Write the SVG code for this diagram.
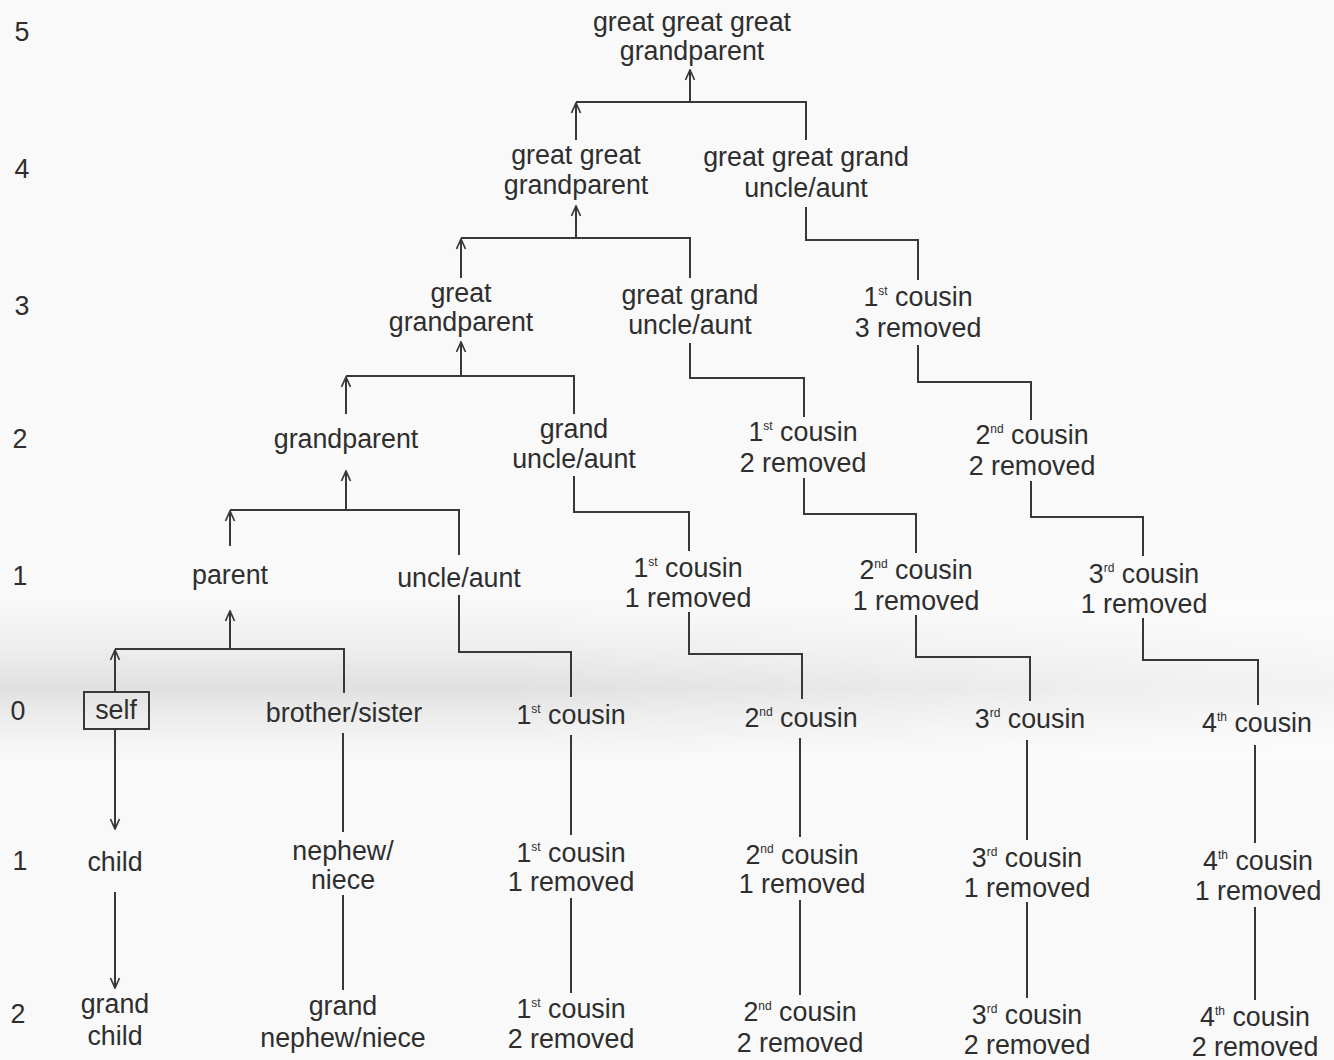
<svg xmlns="http://www.w3.org/2000/svg" width="1334" height="1060" viewBox="0 0 1334 1060">
<style>
.t{font-family:"Liberation Sans",Arial,sans-serif;font-size:26.8px;fill:#2e2e2e;text-anchor:middle}
.sup{font-size:12px}
.ln{stroke:#383838;stroke-width:2;fill:none}
.ar{stroke:#383838;stroke-width:2;fill:none;marker-end:url(#arr)}
.box{stroke:#383838;stroke-width:2;fill:none}
</style>
<defs>
<marker id="arr" viewBox="0 0 12 12" refX="11" refY="6" markerWidth="12" markerHeight="12" markerUnits="userSpaceOnUse" orient="auto">
<path d="M1,1.5 L11,6 L1,10.5" fill="none" stroke="#383838" stroke-width="1.7"/>
</marker>
<linearGradient id="band" x1="0" y1="0" x2="0" y2="1">
<stop offset="0" stop-color="#e6e6e6" stop-opacity="0"/>
<stop offset="0.55" stop-color="#dedede" stop-opacity="0.9"/>
<stop offset="1" stop-color="#e6e6e6" stop-opacity="0"/>
</linearGradient>
<linearGradient id="fade" x1="0" y1="0" x2="1" y2="0">
<stop offset="0" stop-color="#fff" stop-opacity="0"/>
<stop offset="1" stop-color="#fff" stop-opacity="1"/>
</linearGradient>
</defs>
<rect width="1334" height="1060" fill="#f9f9f9"/>
<rect x="0" y="600" width="1334" height="160" fill="url(#band)"/>
<rect x="500" y="600" width="834" height="160" fill="url(#fade)" opacity="0.6"/>

<g id="levels">
<text class="t" x="22" y="41">5</text>
<text class="t" x="22" y="178">4</text>
<text class="t" x="22" y="315">3</text>
<text class="t" x="20" y="448">2</text>
<text class="t" x="20" y="585">1</text>
<text class="t" x="18" y="720">0</text>
<text class="t" x="20" y="870">1</text>
<text class="t" x="18" y="1023">2</text>
</g>

<g id="connectors">
<path class="ln" d="M576,102 H806 V140"/>
<line class="ar" x1="690" y1="102" x2="690" y2="70"/>
<line class="ar" x1="576" y1="140" x2="576" y2="103"/>
<path class="ln" d="M461,238 H690 V278"/>
<line class="ar" x1="576" y1="238" x2="576" y2="206"/>
<line class="ar" x1="461" y1="278" x2="461" y2="239"/>
<path class="ln" d="M806,207 V240 H918 V280"/>
<path class="ln" d="M346,376 H574 V414"/>
<line class="ar" x1="461" y1="376" x2="461" y2="342"/>
<line class="ar" x1="346" y1="414" x2="346" y2="377"/>
<path class="ln" d="M690,343 V378 H804 V417"/>
<path class="ln" d="M918,345 V382 H1031 V420"/>
<path class="ln" d="M230,510 H459 V555"/>
<line class="ar" x1="346" y1="510" x2="346" y2="471"/>
<line class="ar" x1="230" y1="546" x2="230" y2="511"/>
<path class="ln" d="M574,476 V512 H689 V551"/>
<path class="ln" d="M804,478 V514 H916 V553"/>
<path class="ln" d="M1031,481 V517 H1143 V556"/>
<path class="ln" d="M115,649 H344 V693"/>
<line class="ar" x1="230" y1="649" x2="230" y2="611"/>
<line class="ar" x1="115" y1="692" x2="115" y2="650"/>
<path class="ln" d="M459,595 V652 H571 V697"/>
<path class="ln" d="M689,612 V654 H802 V699"/>
<path class="ln" d="M916,615 V657 H1030 V701"/>
<path class="ln" d="M1143,618 V660 H1258 V705"/>
<line class="ar" x1="115" y1="729" x2="115" y2="829"/>
<line class="ar" x1="115" y1="892" x2="115" y2="988"/>
<line class="ln" x1="343" y1="733" x2="343" y2="832"/>
<line class="ln" x1="343" y1="895" x2="343" y2="990"/>
<line class="ln" x1="571" y1="735" x2="571" y2="835"/>
<line class="ln" x1="571" y1="898" x2="571" y2="993"/>
<line class="ln" x1="800" y1="738" x2="800" y2="837"/>
<line class="ln" x1="800" y1="900" x2="800" y2="995"/>
<line class="ln" x1="1027" y1="740" x2="1027" y2="840"/>
<line class="ln" x1="1027" y1="902" x2="1027" y2="998"/>
<line class="ln" x1="1255" y1="745" x2="1255" y2="843"/>
<line class="ln" x1="1255" y1="907" x2="1255" y2="1000"/>
</g>

<g id="n-ggg-grandparent"><text class="t" x="692" y="31">great great great</text><text class="t" x="692" y="60">grandparent</text></g>
<g id="n-gg-grandparent"><text class="t" x="576" y="164">great great</text><text class="t" x="576" y="194">grandparent</text></g>
<g id="n-gg-granduncle"><text class="t" x="806" y="166">great great grand</text><text class="t" x="806" y="197">uncle/aunt</text></g>
<g id="n-g-grandparent"><text class="t" x="461" y="302">great</text><text class="t" x="461" y="331">grandparent</text></g>
<g id="n-g-granduncle"><text class="t" x="690" y="304">great grand</text><text class="t" x="690" y="334">uncle/aunt</text></g>
<g id="n-c1r3"><text class="t" x="918" y="306">1<tspan class="sup" dy="-11">st</tspan><tspan dy="11"> cousin</tspan></text><text class="t" x="918" y="337">3 removed</text></g>
<g id="n-grandparent"><text class="t" x="346" y="448">grandparent</text></g>
<g id="n-granduncle"><text class="t" x="574" y="438">grand</text><text class="t" x="574" y="468">uncle/aunt</text></g>
<g id="n-c1r2a"><text class="t" x="803" y="441">1<tspan class="sup" dy="-11">st</tspan><tspan dy="11"> cousin</tspan></text><text class="t" x="803" y="472">2 removed</text></g>
<g id="n-c2r2a"><text class="t" x="1032" y="444">2<tspan class="sup" dy="-11">nd</tspan><tspan dy="11"> cousin</tspan></text><text class="t" x="1032" y="475">2 removed</text></g>
<g id="n-parent"><text class="t" x="230" y="584">parent</text></g>
<g id="n-uncle"><text class="t" x="459" y="587">uncle/aunt</text></g>
<g id="n-c1r1a"><text class="t" x="688" y="577">1<tspan class="sup" dy="-11">st</tspan><tspan dy="11"> cousin</tspan></text><text class="t" x="688" y="607">1 removed</text></g>
<g id="n-c2r1a"><text class="t" x="916" y="579">2<tspan class="sup" dy="-11">nd</tspan><tspan dy="11"> cousin</tspan></text><text class="t" x="916" y="610">1 removed</text></g>
<g id="n-c3r1a"><text class="t" x="1144" y="583">3<tspan class="sup" dy="-11">rd</tspan><tspan dy="11"> cousin</tspan></text><text class="t" x="1144" y="613">1 removed</text></g>

<g id="n-self"><rect class="box" x="84" y="692" width="65" height="37"/><text class="t" x="116" y="719">self</text></g>
<g id="n-sibling"><text class="t" x="344" y="722">brother/sister</text></g>
<g id="n-c1"><text class="t" x="571" y="724">1<tspan class="sup" dy="-11">st</tspan><tspan dy="11"> cousin</tspan></text></g>
<g id="n-c2"><text class="t" x="801" y="727">2<tspan class="sup" dy="-11">nd</tspan><tspan dy="11"> cousin</tspan></text></g>
<g id="n-c3"><text class="t" x="1030" y="728">3<tspan class="sup" dy="-11">rd</tspan><tspan dy="11"> cousin</tspan></text></g>
<g id="n-c4"><text class="t" x="1257" y="732">4<tspan class="sup" dy="-11">th</tspan><tspan dy="11"> cousin</tspan></text></g>

<g id="n-child"><text class="t" x="115" y="871">child</text></g>
<g id="n-nephew"><text class="t" x="343" y="860">nephew/</text><text class="t" x="343" y="889">niece</text></g>
<g id="n-c1r1b"><text class="t" x="571" y="862">1<tspan class="sup" dy="-11">st</tspan><tspan dy="11"> cousin</tspan></text><text class="t" x="571" y="891">1 removed</text></g>
<g id="n-c2r1b"><text class="t" x="802" y="864">2<tspan class="sup" dy="-11">nd</tspan><tspan dy="11"> cousin</tspan></text><text class="t" x="802" y="893">1 removed</text></g>
<g id="n-c3r1b"><text class="t" x="1027" y="867">3<tspan class="sup" dy="-11">rd</tspan><tspan dy="11"> cousin</tspan></text><text class="t" x="1027" y="897">1 removed</text></g>
<g id="n-c4r1b"><text class="t" x="1258" y="870">4<tspan class="sup" dy="-11">th</tspan><tspan dy="11"> cousin</tspan></text><text class="t" x="1258" y="900">1 removed</text></g>

<g id="n-grandchild"><text class="t" x="115" y="1013">grand</text><text class="t" x="115" y="1045">child</text></g>
<g id="n-grandnephew"><text class="t" x="343" y="1015">grand</text><text class="t" x="343" y="1047">nephew/niece</text></g>
<g id="n-c1r2b"><text class="t" x="571" y="1018">1<tspan class="sup" dy="-11">st</tspan><tspan dy="11"> cousin</tspan></text><text class="t" x="571" y="1048">2 removed</text></g>
<g id="n-c2r2b"><text class="t" x="800" y="1021">2<tspan class="sup" dy="-11">nd</tspan><tspan dy="11"> cousin</tspan></text><text class="t" x="800" y="1052">2 removed</text></g>
<g id="n-c3r2b"><text class="t" x="1027" y="1024">3<tspan class="sup" dy="-11">rd</tspan><tspan dy="11"> cousin</tspan></text><text class="t" x="1027" y="1054">2 removed</text></g>
<g id="n-c4r2b"><text class="t" x="1255" y="1026">4<tspan class="sup" dy="-11">th</tspan><tspan dy="11"> cousin</tspan></text><text class="t" x="1255" y="1056">2 removed</text></g>
</svg>
